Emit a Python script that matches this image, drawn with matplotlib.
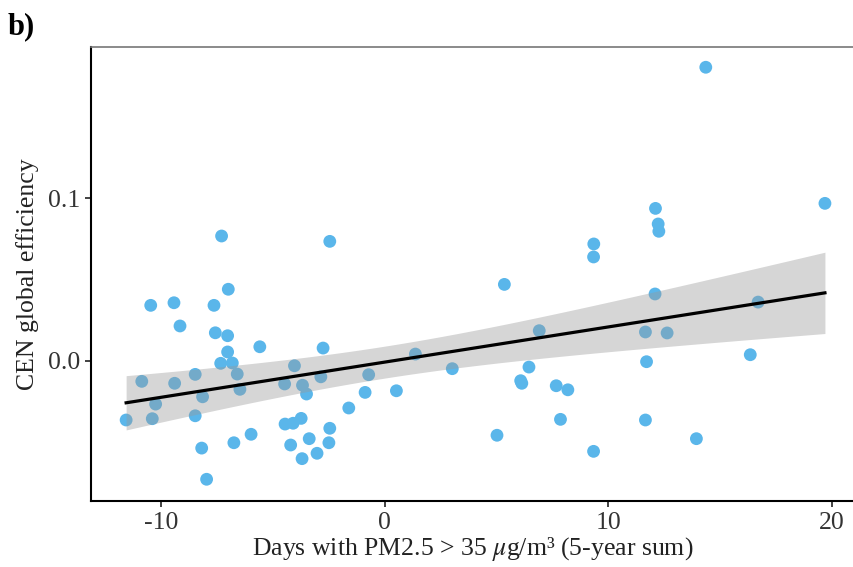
#%% Librerias
import numpy as np
import matplotlib.pyplot as plt

plt.rcParams['font.family'] = ['Liberation Serif', 'DejaVu Serif']
plt.rcParams['axes.unicode_minus'] = False
plt.rcParams['mathtext.fontset'] = 'stix'

#%% Data
pm_days = [-7.29, -6.99, -10.46, -9.42, -7.63, -9.15, -7.57, -7.02, -5.58, -7.02,
           -7.33, -6.81, -6.59, -8.47, -10.86, -9.39, -6.47, -8.14, -10.24, -11.56,
           -10.39, -8.47, -5.97, -6.74, -8.18, -7.96,
           -2.45, -2.75, -4.03, -4.47, -3.67, -3.49, -2.85, -0.71, 1.38, 3.03,
           -0.87, 0.53, -1.60, -4.45, -4.09, -3.73, -2.45, -4.20, -3.37, -2.49,
           -3.02, -3.69,
           9.36, 9.35, 5.36, 6.92, 6.46, 6.09, 6.14, 7.68, 8.20, 7.87, 5.03, 9.35,
           14.37, 12.12, 12.24, 12.27, 19.70, 12.10, 16.71, 11.67, 12.64, 11.72,
           16.36, 11.67, 13.95]
cen_eff = [0.0768, 0.0440, 0.0341, 0.0357, 0.0341, 0.0214, 0.0172, 0.0154, 0.0086, 0.0054,
           -0.0016, -0.0014, -0.0082, -0.0084, -0.0127, -0.0139, -0.0176, -0.0222, -0.0267, -0.0365,
           -0.0357, -0.0339, -0.0453, -0.0505, -0.0538, -0.0730,
           0.0735, 0.0078, -0.0031, -0.0143, -0.0151, -0.0205, -0.0099, -0.0086, 0.0041, -0.0049,
           -0.0195, -0.0185, -0.0291, -0.0390, -0.0385, -0.0355, -0.0416, -0.0519, -0.0480, -0.0505,
           -0.0570, -0.0603,
           0.0719, 0.0639, 0.0470, 0.0185, -0.0039, -0.0123, -0.0139, -0.0154, -0.0179, -0.0361, -0.0459, -0.0558,
           0.1807, 0.0938, 0.0842, 0.0797, 0.0969, 0.0411, 0.0361, 0.0177, 0.0171, -0.0006,
           0.0037, -0.0365, -0.0480]

x = np.array(pm_days)
y = np.array(cen_eff)

#%% Ajuste lineal + IC 95%
n = len(x)
b1, b0 = np.polyfit(x, y, 1)
xs = np.linspace(x.min(), x.max(), 200)
ys = b0 + b1 * xs
res = y - (b0 + b1 * x)
s = np.sqrt(np.sum(res**2) / (n - 2))
sxx = np.sum((x - x.mean())**2)
se = s * np.sqrt(1 / n + (xs - x.mean())**2 / sxx)
t = 1.994  # t(0.975, 71)
lo, hi = ys - t * se, ys + t * se

#%% plot
fig = plt.figure(figsize=(8.54, 5.67), dpi=100)
ax = fig.add_axes([0.1066, 0.1169, 0.8934, 0.7997])

ax.scatter(x, y, s=85, color='#5AB6EA', edgecolors='none', zorder=2)
ax.fill_between(xs, lo, hi, color='#999999', alpha=0.4, lw=0, zorder=3)
ax.plot(xs, ys, color='black', lw=2.3, zorder=4)

ax.set_xlim(-13.13, 21.0)
ax.set_ylim(-0.0862, 0.193)
ax.set_xticks([-10, 0, 10, 20])
ax.set_yticks([0.0, 0.1])
ax.set_yticklabels(['0.0', '0.1'])
ax.tick_params(direction='out', length=4, width=1.3, labelsize=18.5,
               colors='#333333', labelcolor='#333333', pad=4)

ax.spines['right'].set_visible(False)
ax.spines['top'].set_color('#777777')
ax.spines['top'].set_linewidth(1.2)
ax.spines['left'].set_linewidth(1.5)
ax.spines['bottom'].set_linewidth(1.5)

ax.set_xlabel(r'Days with PM2.5 > 35 $\mu$g/m³ (5-year sum)', fontsize=18.5, color='#222222', labelpad=1)
ax.set_ylabel('CEN global efficiency', fontsize=18.5, color='#222222', labelpad=6)

fig.text(0.009, 0.94, 'b)', fontsize=22, fontweight='bold')

plt.savefig('out.png', dpi=100)
